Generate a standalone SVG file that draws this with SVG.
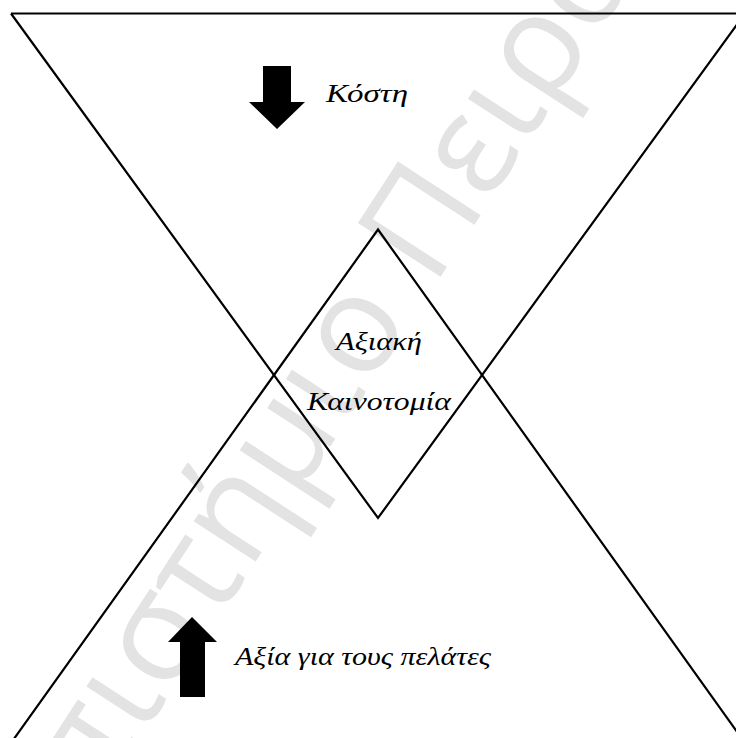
<svg xmlns="http://www.w3.org/2000/svg" width="736" height="738" viewBox="0 0 736 738">
  <style>
    .ln { fill: none; stroke: #000; stroke-width: 2.2; stroke-linejoin: miter; }
    .lbl { font-family: "Liberation Serif", "Times New Roman", serif; font-style: italic; font-size: 26px; fill: #000; }
    .wm { font-family: "Open Sans", "Noto Sans", sans-serif; font-size: 138px; fill: #e3e3e3; }
    .arr { fill: #000; }
  </style>
  <rect x="0" y="0" width="736" height="738" fill="#fff"/>
  <g id="watermark" transform="translate(443,273) rotate(-57)">
    <text class="wm" x="-56" y="0" text-anchor="end">Πανεπιστήμιο</text>
    <text class="wm" x="-18" y="0">Πειραιώς</text>
  </g>
  <g id="shapes">
    <g id="cost-triangle">
      <polyline class="ln" points="11,13.5 736,13.5"/>
      <polyline class="ln" points="11,13.5 378,518 745,13.5"/>
    </g>
    <g id="value-triangle">
      <polyline class="ln" points="6,750 378,229.5 750,750"/>
    </g>
  </g>
  <g id="cost">
    <polygon class="arr" points="263,66 291,66 291,102 305,102 277,129 249,102 263,102"/>
    <text class="lbl" x="326" y="102" textLength="82" lengthAdjust="spacingAndGlyphs">Κόστη</text>
  </g>
  <g id="innovation">
    <text class="lbl" x="336" y="350" textLength="86" lengthAdjust="spacingAndGlyphs">Αξιακή</text>
    <text class="lbl" x="307" y="410" textLength="144" lengthAdjust="spacingAndGlyphs">Καινοτομία</text>
  </g>
  <g id="value">
    <polygon class="arr" points="192,617 217,642 205,642 205,697 180,697 180,642 168,642"/>
    <text class="lbl" x="235" y="665" textLength="256" lengthAdjust="spacingAndGlyphs">Αξία για τους πελάτες</text>
  </g>
</svg>
